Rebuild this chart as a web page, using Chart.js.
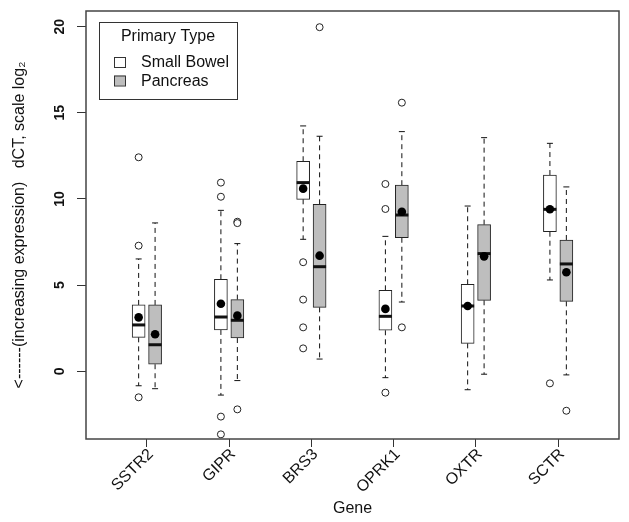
<!DOCTYPE html>
<html>
<head>
<meta charset="utf-8">
<script src="https://cdn.jsdelivr.net/npm/chart.js@4/dist/chart.umd.min.js"></script>
<style>
  body { margin: 0; background: #fff; }
  canvas { display: block; }
</style>
</head>
<body>
<canvas id="boxChart" width="629" height="522"></canvas>
<script>
// genes on the x axis, and box statistics (dCT, log2)
const genes = ['SSTR2', 'GIPR', 'BRS3', 'OPRK1', 'OXTR', 'SCTR'];
const yTickValues = [0, 5, 10, 15, 20];

const sbLow    = [-0.84, -1.38,  7.66, -0.37, -1.07,  5.30];
const sbQ1     = [ 1.97,  2.40,  9.98,  2.38,  1.62,  8.10];
const sbMedian = [ 2.69,  3.15, 10.95,  3.19,  3.79,  9.40];
const sbQ3     = [ 3.85,  5.34, 12.19,  4.70,  5.05, 11.39];
const sbHigh   = [ 6.52,  9.34, 14.24,  7.83,  9.59, 13.23];
const sbMean   = [ 3.13,  3.92, 10.60,  3.62,  3.79,  9.40];
const sbOutliers = [[12.42, 7.29, -1.51], [10.95, 10.13, -2.63, -3.66], [6.33, 4.16, 2.55, 1.33], [10.87, 9.42, -1.24], [], [-0.70]];

const pLow    = [-1.01, -0.54,  0.71,  4.02, -0.17, -0.21];
const pQ1     = [ 0.41,  1.93,  3.71,  7.75,  4.12,  4.06];
const pMedian = [ 1.54,  2.96,  6.07,  9.07,  6.83,  6.23];
const pQ3     = [ 3.85,  4.16,  9.69, 10.80,  8.51,  7.62];
const pHigh   = [ 8.61,  7.41, 13.64, 13.91, 13.56, 10.70];
const pMean   = [ 2.15,  3.23,  6.71,  9.26,  6.67,  5.75];
const pOutliers = [[], [8.68, 8.60, -2.21], [19.97], [15.59, 2.55], [], [-2.29]];

const legendTitle = 'Primary Type';
const seriesNames = ['Small Bowel', 'Pancreas'];
const seriesFill = ['#ffffff', '#bebebe'];
const ink = '#111111';

// boxes sit either side of the gene position
const sbPos = genes.map((g, i) => i + 1 - 0.1);
const pPos = genes.map((g, i) => i + 1 + 0.1);

function boxData(pos, q1, q3) {
  return pos.map((x, i) => ({x: x, y: [q1[i], q3[i]]}));
}
function pointData(pos, vals) {
  return pos.map((x, i) => ({x: x, y: vals[i]}));
}
function whiskerData(pos, q1, q3, lo, hi) {
  let pts = [];
  pos.forEach((x, i) => {
    pts.push({x: x, y: q3[i]}, {x: x, y: hi[i]}, {x: x, y: null});
    pts.push({x: x, y: q1[i]}, {x: x, y: lo[i]}, {x: x, y: null});
  });
  return pts;
}
function capData(pos, lo, hi) {
  let pts = [];
  pos.forEach((x, i) => { pts.push({x: x, y: lo[i]}, {x: x, y: hi[i]}); });
  return pts;
}
function outlierData(pos, outs) {
  let pts = [];
  pos.forEach((x, i) => outs[i].forEach(v => pts.push({x: x, y: v})));
  return pts;
}

const whiskerStyle = {type: 'line', borderColor: ink, borderWidth: 1, borderDash: [5, 4],
  pointRadius: 0, spanGaps: false, fill: false, order: 6};
const boxStyle = {type: 'bar', borderColor: '#222', borderWidth: 1, borderSkipped: false,
  barThickness: 13, grouped: false, order: 5};
const capStyle = {type: 'scatter', pointStyle: 'line', pointRadius: 3, pointBorderWidth: 1,
  pointBorderColor: ink, order: 4};
const medianStyle = {type: 'scatter', pointStyle: 'line', pointRadius: 6.5, pointBorderWidth: 3,
  pointBorderColor: ink, order: 3};
const meanStyle = {type: 'scatter', pointStyle: 'circle', pointRadius: 4.3, pointBorderWidth: 0,
  pointBackgroundColor: '#000', order: 2};
const outlierStyle = {type: 'scatter', pointStyle: 'circle', pointRadius: 3.5, pointBorderWidth: 1,
  pointBorderColor: '#222', pointBackgroundColor: '#fff', order: 1};

const datasets = [
  Object.assign({label: 'sb whiskers', data: whiskerData(sbPos, sbQ1, sbQ3, sbLow, sbHigh)}, whiskerStyle),
  Object.assign({label: 'p whiskers', data: whiskerData(pPos, pQ1, pQ3, pLow, pHigh)}, whiskerStyle),
  Object.assign({label: seriesNames[0], data: boxData(sbPos, sbQ1, sbQ3), backgroundColor: seriesFill[0]}, boxStyle),
  Object.assign({label: seriesNames[1], data: boxData(pPos, pQ1, pQ3), backgroundColor: seriesFill[1]}, boxStyle),
  Object.assign({label: 'sb caps', data: capData(sbPos, sbLow, sbHigh)}, capStyle),
  Object.assign({label: 'p caps', data: capData(pPos, pLow, pHigh)}, capStyle),
  Object.assign({label: 'sb median', data: pointData(sbPos, sbMedian)}, medianStyle),
  Object.assign({label: 'p median', data: pointData(pPos, pMedian)}, medianStyle),
  Object.assign({label: 'sb mean', data: pointData(sbPos, sbMean)}, meanStyle),
  Object.assign({label: 'p mean', data: pointData(pPos, pMean)}, meanStyle),
  Object.assign({label: 'sb outliers', data: outlierData(sbPos, sbOutliers)}, outlierStyle),
  Object.assign({label: 'p outliers', data: outlierData(pPos, pOutliers)}, outlierStyle)
];

// frame round the plot and the boxed legend in the top left corner
const framePlugin = {
  id: 'frameAndLegend',
  afterDraw(chart) {
    const ctx = chart.ctx;
    const a = chart.chartArea;
    ctx.save();
    ctx.strokeStyle = '#444';
    ctx.lineWidth = 1.5;
    ctx.strokeRect(a.left, a.top, a.right - a.left, a.bottom - a.top);

    const lx = a.left + 13, ly = a.top + 11, lw = 138, lh = 77;
    ctx.lineWidth = 1;
    ctx.strokeStyle = '#333';
    ctx.fillStyle = '#fff';
    ctx.fillRect(lx, ly, lw, lh);
    ctx.strokeRect(lx + 0.5, ly + 0.5, lw, lh);

    ctx.fillStyle = ink;
    ctx.font = '16px "Liberation Sans", Arial, sans-serif';
    ctx.textAlign = 'center';
    ctx.textBaseline = 'alphabetic';
    ctx.fillText(legendTitle, lx + lw / 2, ly + 19);
    ctx.textAlign = 'left';
    seriesNames.forEach((name, i) => {
      const rowY = ly + 44 + i * 18.5;
      ctx.fillStyle = seriesFill[i];
      ctx.fillRect(lx + 15, rowY - 9, 11, 10);
      ctx.strokeStyle = '#333';
      ctx.strokeRect(lx + 15.5, rowY - 8.5, 11, 10);
      ctx.fillStyle = ink;
      ctx.fillText(name, lx + 42, rowY + 1);
    });
    ctx.restore();
  }
};

Chart.defaults.font.family = '"Liberation Sans", Arial, sans-serif';
Chart.defaults.color = ink;

new Chart(document.getElementById('boxChart'), {
  type: 'bar',
  data: {datasets: datasets},
  options: {
    responsive: false,
    animation: false,
    events: [],
    layout: {padding: {top: 11, right: 10, left: 0, bottom: 0}},
    plugins: {legend: {display: false}, tooltip: {enabled: false}},
    scales: {
      x: {
        type: 'linear',
        min: 0.26,
        max: 6.74,
        offset: false,
        afterBuildTicks: (scale) => { scale.ticks = genes.map((g, i) => ({value: i + 1})); },
        afterFit: (scale) => {
          scale.height = 83;
          scale.paddingLeft = 0;
          scale.paddingRight = 0;
        },
        grid: {display: true, offset: false, drawOnChartArea: false, drawTicks: true, tickLength: 8, tickColor: '#333'},
        border: {display: false},
        ticks: {
          minRotation: 45,
          maxRotation: 45,
          padding: -2,
          labelOffset: 4,
          font: {size: 16},
          callback: (value, index) => genes[index]
        },
        title: {display: true, text: 'Gene', font: {size: 16}, padding: {top: 0, bottom: 4}}
      },
      y: {
        type: 'linear',
        min: -3.93,
        max: 20.91,
        afterBuildTicks: (scale) => { scale.ticks = yTickValues.map(v => ({value: v})); },
        afterFit: (scale) => {
          scale.width = 86;
          scale.paddingTop = 0;
          scale.paddingBottom = 0;
        },
        grid: {display: true, drawOnChartArea: false, drawTicks: true, tickLength: 9, tickColor: '#333'},
        border: {display: false},
        ticks: {
          minRotation: 90,
          maxRotation: 90,
          crossAlign: 'center',
          padding: 9,
          font: {size: 14, weight: 'bold'}
        },
        title: {
          display: true,
          text: '<------(increasing expression)   dCT, scale log\u2082',
          font: {size: 16},
          padding: {top: 10, bottom: 0}
        }
      }
    }
  },
  plugins: [framePlugin]
});
</script>
</body>
</html>
